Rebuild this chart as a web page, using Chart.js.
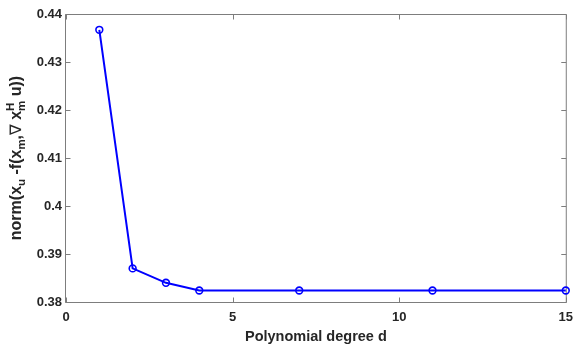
<!DOCTYPE html>
<html>
<head>
<meta charset="utf-8">
<script src="https://cdn.jsdelivr.net/npm/chart.js@4/dist/chart.umd.min.js"></script>
<style>
  html, body { margin: 0; padding: 0; background: #ffffff; }
  #wrap { width: 581px; height: 346px; position: relative; }
</style>
</head>
<body>
<div id="wrap"><canvas id="c" width="581" height="346"></canvas></div>
<script>
// ---- data ----
const degrees = [1, 2, 3, 4, 7, 11, 15];
const normValues = [0.4367, 0.3870, 0.3840, 0.3824, 0.3824, 0.3824, 0.3824];
const xTickValues = [0, 5, 10, 15];
const xTickLabels = ['0', '5', '10', '15'];
const yTickValues = [0.38, 0.39, 0.40, 0.41, 0.42, 0.43, 0.44];
const yTickLabels = ['0.38', '0.39', '0.4', '0.41', '0.42', '0.43', '0.44'];
const xTitle = 'Polynomial degree d';
// y title pieces: [text, kind]  kind: n = normal, b = sub, p = sup (stacked over previous sub), s = symbol
const yTitleParts = [
  ['norm(x', 'n'], ['u', 'b'], [' -f(x', 'n'], ['m', 'b'], [',', 'n'], ['\u2207', 's'],
  [' x', 'n'], ['m', 'b'], ['H', 'p'], [' u))', 'n']
];

const TEXT = '#262626';
const AXIS = '#7d7d7d';
const FONT = '"Liberation Sans", Arial, sans-serif';

const boxPlugin = {
  id: 'matlabBox',
  beforeDatasetsDraw(chart) {
    const { ctx, chartArea: a, scales } = chart;
    const L = a.left - 0.5, R = a.right + 0.5, T = a.top + 0.5, B = a.bottom + 0.5;
    ctx.save();
    ctx.strokeStyle = AXIS;
    ctx.lineWidth = 1;
    ctx.beginPath();
    ctx.rect(L, T, R - L, B - T);
    ctx.stroke();
    const tl = 5;
    ctx.beginPath();
    scales.x.ticks.forEach(t => {
      const px = Math.round(scales.x.getPixelForValue(t.value)) + 0.5;
      ctx.moveTo(px, B); ctx.lineTo(px, B - tl);
      ctx.moveTo(px, T); ctx.lineTo(px, T + tl);
    });
    scales.y.ticks.forEach(t => {
      const py = Math.round(scales.y.getPixelForValue(t.value)) + 0.5;
      ctx.moveTo(L, py); ctx.lineTo(L + tl, py);
      ctx.moveTo(R, py); ctx.lineTo(R - tl, py);
    });
    ctx.stroke();
    ctx.restore();
  },
  afterDraw(chart) {
    const { ctx, chartArea: a } = chart;
    const main = 'bold 16px ' + FONT;
    const small = 'bold 11.5px ' + FONT;
    const sym = '16px "DejaVu Sans", sans-serif';
    ctx.save();
    ctx.fillStyle = TEXT;
    ctx.textBaseline = 'alphabetic';
    ctx.textAlign = 'left';
    const fontFor = k => (k === 'n' ? main : (k === 's' ? sym : small));
    let total = 0, prevW = 0;
    yTitleParts.forEach(([t, k]) => {
      ctx.font = fontFor(k);
      const w = ctx.measureText(t).width;
      if (k === 'p') { total += Math.max(0, w - prevW); }
      else { total += w; }
      prevW = w;
    });
    const cy = (a.top + a.bottom) / 2;
    ctx.translate(21, cy);
    ctx.rotate(-Math.PI / 2);
    let x = -total / 2, lastStart = x; prevW = 0;
    yTitleParts.forEach(([t, k]) => {
      ctx.font = fontFor(k);
      const w = ctx.measureText(t).width;
      if (k === 'p') {
        ctx.fillText(t, lastStart, -7.5);
        x = lastStart + Math.max(w, prevW);
      } else {
        const dy = k === 'b' ? 4 : 0;
        ctx.fillText(t, x, dy);
        lastStart = x;
        x += w;
      }
      prevW = w;
    });
    ctx.restore();
  }
};

new Chart(document.getElementById('c'), {
  type: 'line',
  data: {
    datasets: [{
      data: degrees.map((d, i) => ({ x: d, y: normValues[i] })),
      borderColor: '#0000ff',
      borderWidth: 2,
      pointStyle: 'circle',
      pointRadius: 3.4,
      pointBorderWidth: 1.6,
      pointBorderColor: '#0000ff',
      pointBackgroundColor: 'rgba(0,0,0,0)',
      tension: 0,
      fill: false,
      clip: false
    }]
  },
  options: {
    responsive: false,
    animation: false,
    devicePixelRatio: 1,
    layout: { padding: { left: 0, right: 9, top: 14, bottom: 0 } },
    plugins: { legend: { display: false }, tooltip: { enabled: false }, title: { display: false } },
    scales: {
      x: {
        type: 'linear',
        min: 0, max: 15,
        afterBuildTicks: s => { s.ticks = xTickValues.map(v => ({ value: v })); },
        afterFit: s => { s.height = 44; },
        border: { display: false },
        grid: { display: false, drawTicks: false },
        ticks: {
          autoSkip: false, maxRotation: 0, padding: 8,
          color: TEXT, font: { family: FONT, size: 13, weight: 'bold' },
          callback: (v, i) => xTickLabels[i]
        },
        title: {
          display: true, text: xTitle, color: TEXT,
          font: { family: FONT, size: 14.5, weight: 'bold', lineHeight: 1.2 },
          padding: { top: 0, bottom: 0 }
        }
      },
      y: {
        type: 'linear',
        min: 0.38, max: 0.44,
        afterBuildTicks: s => { s.ticks = yTickValues.map(v => ({ value: v })); },
        afterFit: s => { s.width = 66; },
        border: { display: false },
        grid: { display: false, drawTicks: false },
        ticks: {
          autoSkip: false, padding: 4,
          color: TEXT, font: { family: FONT, size: 13, weight: 'bold' },
          callback: (v, i) => yTickLabels[i]
        }
      }
    }
  },
  plugins: [boxPlugin]
});
</script>
</body>
</html>
